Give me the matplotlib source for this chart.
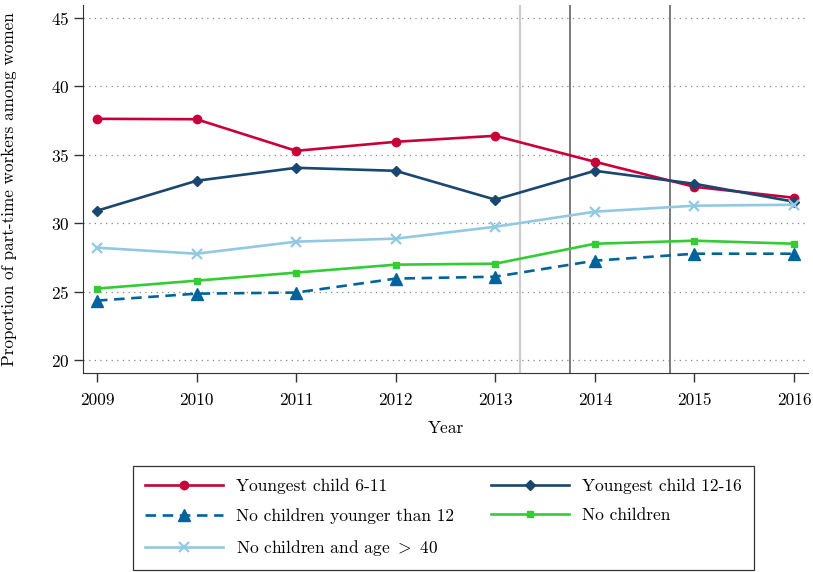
import matplotlib
matplotlib.use("Agg")
import matplotlib.pyplot as plt

plt.rcParams['font.family'] = 'serif'
plt.rcParams['font.serif'] = ['cmr10', 'DejaVu Serif']
plt.rcParams['mathtext.fontset'] = 'cm'
plt.rcParams['axes.unicode_minus'] = False
plt.rcParams['axes.formatter.use_mathtext'] = True

years = [2009, 2010, 2011, 2012, 2013, 2014, 2015, 2016]
youngest_6_11 = [37.63, 37.6, 35.29, 35.95, 36.39, 34.49, 32.66, 31.86]
youngest_12_16 = [30.91, 33.1, 34.05, 33.83, 31.72, 33.83, 32.88, 31.57]
no_children_lt12 = [24.34, 24.85, 24.93, 25.95, 26.09, 27.26, 27.77, 27.77]
no_children = [25.22, 25.8, 26.39, 26.97, 27.04, 28.5, 28.72, 28.5]
no_children_age40 = [28.21, 27.77, 28.65, 28.87, 29.74, 30.84, 31.28, 31.35]
labels = ["Youngest child 6-11", "Youngest child 12-16", "No children younger than 12",
          "No children", r"No children and age $>$ 40"]
vlines_light = [2013.25]
vlines_dark = [2013.75, 2014.75]
yticks = [20, 25, 30, 35, 40, 45]

fig = plt.figure(figsize=(8.13, 5.72), dpi=100)
ax = fig.add_axes([83/813, 1-373/572, (808-83)/813, (373-5)/572])

for v in vlines_light:
    ax.axvline(v, color='#cccccc', lw=1.6, zorder=1)
for v in vlines_dark:
    ax.axvline(v, color='#707070', lw=1.3, zorder=1)

for t in yticks:
    ax.axhline(t, color='#888888', lw=0.9, ls=(0, (1, 3.5)), zorder=0)

h1, = ax.plot(years, youngest_6_11, color='#c8003a', lw=1.9, marker='o', ms=6, label=labels[0], zorder=3)
h2, = ax.plot(years, youngest_12_16, color='#1a476f', lw=1.9, marker='D', ms=5, label=labels[1], zorder=3)
h3, = ax.plot(years, no_children_lt12, color='#00649b', lw=1.9, ls=(0, (4, 2.5)), marker='^', ms=8, label=labels[2], zorder=3)
h4, = ax.plot(years, no_children, color='#33cc33', lw=1.9, marker='s', ms=5, label=labels[3], zorder=3)
h5, = ax.plot(years, no_children_age40, color='#92c9e2', lw=1.9, marker='x', ms=7, mew=1.6, label=labels[4], zorder=3)

ax.set_xlim(2008.86, 2016.14)
ax.set_ylim(19.05, 45.95)
ax.set_yticks(yticks)
ax.set_xticks(years)
ax.set_xticklabels([str(y) for y in years])
ax.spines['top'].set_visible(False)
ax.spines['right'].set_visible(False)
ax.spines['left'].set_color('#333333')
ax.spines['bottom'].set_color('#333333')
ax.tick_params(axis='both', direction='out', length=6.5, width=1, colors='#333333', labelsize=12.5, labelcolor='black')
ax.tick_params(axis='x', pad=8)
ax.tick_params(axis='y', pad=3)
ax.set_xlabel("Year", fontsize=12.5)
ax.set_ylabel("Proportion of part-time workers among women", fontsize=12.3)
ax.yaxis.set_label_coords(-(83-17)/725, 0.5)
ax.xaxis.set_label_coords(0.5, -(421-373)/368)

order = [h1, h3, h5, h2, h4]
leg = fig.legend(handles=order, labels=[h.get_label() for h in order], ncol=2, loc='upper center',
                 bbox_to_anchor=(443.5/813, 1-466/572), borderaxespad=0, fontsize=12.5, frameon=True,
                 fancybox=False, edgecolor='black', handlelength=4.5, columnspacing=2.1,
                 borderpad=0.72, labelspacing=0.79, handletextpad=0.75)
leg.get_frame().set_linewidth(0.9)

fig.savefig("out.png", dpi=100)
